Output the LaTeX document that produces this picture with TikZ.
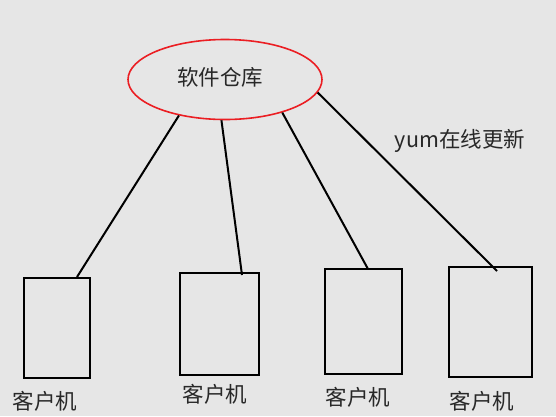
\documentclass[tikz,border=0pt]{standalone}
\usepackage{fontspec}
\newfontfamily\cjk{Noto Sans CJK SC}
\usetikzlibrary{shapes.geometric}
\definecolor{bg}{RGB}{230,230,230}
\definecolor{txt}{RGB}{40,40,40}
\definecolor{ellred}{RGB}{235,30,35}
\begin{document}
\begin{tikzpicture}[x=1pt,y=-1pt,
  lbl/.style={font=\cjk\fontsize{21.5}{24}\selectfont,text=txt,inner sep=0pt},
  client/.style={draw=black,line width=2pt,inner sep=0pt,anchor=north west},
  link/.style={draw=black,line width=2pt}]
\fill[bg] (0,0) rectangle (556,416);
\useasboundingbox (0,0) rectangle (556,416);
\node[ellipse,draw=ellred,line width=1.6pt,minimum width=194pt,minimum height=80pt,inner sep=0pt] (repo) at (225,79.5) {};
\node[lbl] (repotxt) at (220,77) {软件仓库};
\node[client,minimum width=66pt,minimum height=100pt] (b1) at (23,277) {};
\node[client,minimum width=79pt,minimum height=102pt] (b2) at (179,272) {};
\node[client,minimum width=77pt,minimum height=105pt] (b3) at (324,268) {};
\node[client,minimum width=83pt,minimum height=110pt] (b4) at (448,266) {};
\node[lbl] (l1) at (45,401) {客户机};
\node[lbl] (l2) at (215,394) {客户机};
\node[lbl] (l3) at (358,397) {客户机};
\node[lbl] (l4) at (482,401) {客户机};
\node[lbl] (yum) at (460,141) {yum在线更新};
\coordinate (e1) at (77,277);
\coordinate (e2) at (242,275);
\coordinate (e3) at (368,269);
\coordinate (e4) at (497,271);
\draw[link] (repo.218) -- (e1);
\draw[link] (repo.265) -- (e2);
\draw[link] (repo.330) -- (e3);
\draw[link] (repo.352) -- (e4);
\end{tikzpicture}
\end{document}
